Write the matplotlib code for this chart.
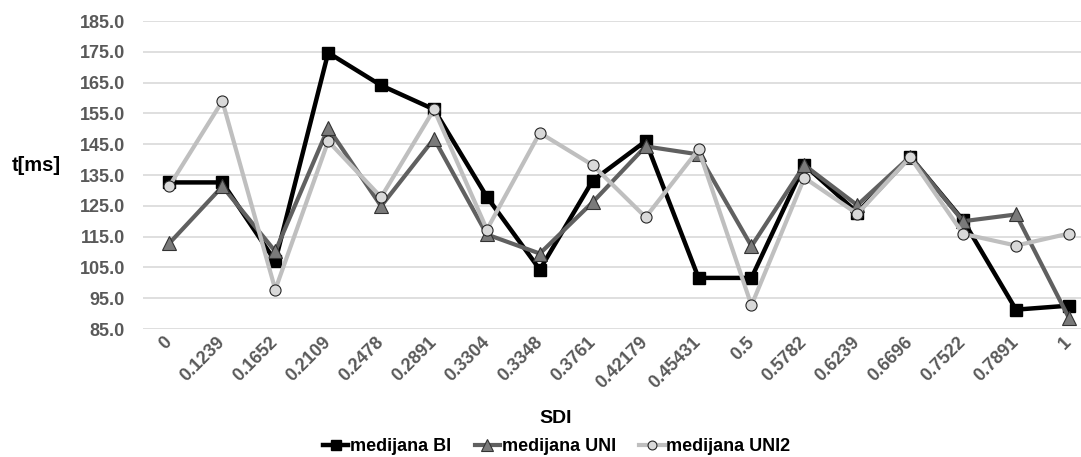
import numpy as np
import matplotlib.pyplot as plt

plt.rcParams['font.family'] = ['Liberation Sans', 'DejaVu Sans']

sdi = ["0", "0.1239", "0.1652", "0.2109", "0.2478", "0.2891", "0.3304",
       "0.3348", "0.3761", "0.42179", "0.45431", "0.5", "0.5782", "0.6239",
       "0.6696", "0.7522", "0.7891", "1"]

med_bi = [132.6, 132.6, 107.0, 174.7, 164.1, 156.3, 127.9, 104.3, 133.2,
          146.0, 101.6, 101.6, 138.3, 122.8, 141.0, 120.3, 91.3, 92.6]
med_uni = [112.9, 131.3, 110.2, 150.3, 124.9, 146.8, 115.7, 109.5, 126.2,
           144.3, 141.7, 111.9, 138.2, 125.2, 141.0, 120.0, 122.2, 88.6]
med_uni2 = [131.5, 159.0, 97.8, 146.0, 127.8, 156.3, 117.3, 148.7, 138.2,
            121.3, 143.3, 92.7, 134.1, 122.4, 140.8, 115.9, 112.1, 116.0]

x = np.arange(len(sdi))
yticks = np.arange(85, 186, 10)

fig = plt.figure(figsize=(10.81, 4.57), dpi=100)
# plot area runs past the right edge, as in the original
ax = fig.add_axes([0.1323, 0.280, 0.881, 0.674])

ax.plot(x, med_bi, color='black', lw=3.2, marker='s', ms=8.5,
        mfc='black', mec='black', label='medijana BI', zorder=3)
ax.plot(x, med_uni, color='#606060', lw=3.0, marker='^', ms=10,
        mfc='#7a7a7a', mec='#333333', mew=0.8, label='medijana UNI', zorder=4)
ax.plot(x, med_uni2, color='#bfbfbf', lw=3.0, marker='o', ms=8,
        mfc='#d9d9d9', mec='#262626', mew=0.8, label='medijana UNI2', zorder=5)

ax.set_xlim(-0.5, len(sdi) - 0.5)
ax.set_ylim(85, 185)
ax.set_yticks(yticks)
ax.set_yticklabels([f"{v:.1f}" for v in yticks])
ax.set_xticks(x)
ax.set_xticklabels(sdi, rotation=45, ha='right', va='center',
                   rotation_mode='anchor')

for lab in ax.get_xticklabels() + ax.get_yticklabels():
    lab.set_fontweight('bold')
    lab.set_color('#595959')
    lab.set_fontsize(13)

ax.tick_params(axis='both', length=0)
ax.tick_params(axis='y', pad=13)
ax.tick_params(axis='x', pad=8)
ax.grid(axis='y', color='#d9d9d9', lw=1.2)
ax.set_axisbelow(True)
for s in ax.spines.values():
    s.set_visible(False)

fig.text(0.514, 0.085, "SDI", fontsize=14, fontweight='bold',
         ha='center', va='center')
fig.text(0.011, 0.637, "t[ms]", fontsize=14.5, fontweight='bold',
         ha='left', va='center')

fig.legend(*ax.get_legend_handles_labels(), loc='center',
           bbox_to_anchor=(0.515, 0.022), ncol=3, frameon=False,
           prop={'weight': 'bold', 'size': 13}, markerscale=0.8,
           handlelength=1.4, handletextpad=0.1, columnspacing=1.3,
           borderpad=0)

fig.savefig("out.png", dpi=100)
